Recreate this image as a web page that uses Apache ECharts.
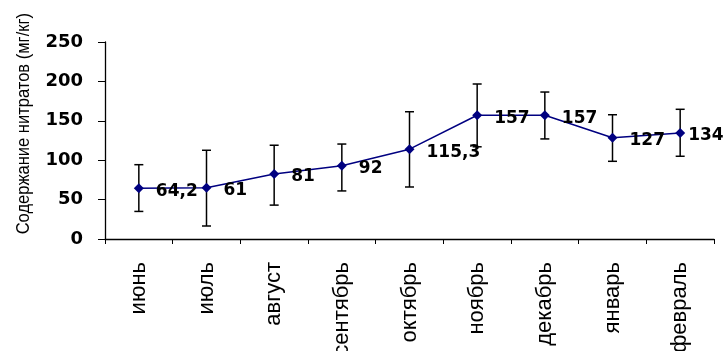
<!DOCTYPE html>
<html><head><meta charset="utf-8">
<script src="https://cdn.jsdelivr.net/npm/echarts@6/dist/echarts.min.js"></script>
<style>html,body{margin:0;padding:0;background:#fff}#c{width:723px;height:351px}</style>
</head><body><div id="c"></div>
<script>
var categories = ['июнь','июль','август','сентябрь','октябрь','ноябрь','декабрь','январь','февраль'];
var values = [64.5, 65, 82.5, 93, 114, 157, 157, 128.5, 134.5];
var valueLabels = ['64,2','61','81','92','115,3','157','157','127','134'];
var errLow = [35, 16.5, 43, 61, 66, 117, 127, 98.6, 105];
var errHigh = [94.3, 112.6, 119, 120.5, 161.5, 196.7, 186.5, 157.7, 164.6];
var yTicks = [0, 50, 100, 150, 200, 250];
var yTitle = 'Содержание нитратов (мг/кг)';

var lineData = values.map(function (v, i) {
  var item = {value: v};
  if (i === values.length - 1) { item.label = {distance: 3}; }
  return item;
});

var chart = echarts.init(document.getElementById('c'));
chart.setOption({
  animation: false,
  grid: {left: 105, right: 9, top: 42, bottom: 112, containLabel: false, outerBoundsMode: 'none'},
  graphic: [{
    type: 'text', rotation: Math.PI / 2, scaleX: 0.87,
    style: {text: yTitle, font: '19px "Liberation Sans", Arial, sans-serif', fill: '#000', textAlign: 'right', textVerticalAlign: 'top'},
    x: 14, y: 13
  }],
  xAxis: {
    type: 'category', data: categories, boundaryGap: true,
    axisLine: {lineStyle: {color: '#000', width: 1.3}},
    axisTick: {show: true, length: 5, alignWithLabel: false, lineStyle: {color: '#000'}},
    axisLabel: {rotate: 90, interval: 0, margin: 23, color: '#000', fontSize: 22, fontFamily: '"Liberation Sans", Arial, sans-serif'}
  },
  yAxis: {
    type: 'value', min: yTicks[0], max: yTicks[yTicks.length - 1], interval: 50,
    splitLine: {show: false},
    axisLine: {show: true, lineStyle: {color: '#000', width: 1.3}},
    axisTick: {show: true, length: 7, lineStyle: {color: '#000'}},
    axisLabel: {margin: 22, color: '#000', fontSize: 18, fontWeight: 'bold', fontFamily: '"DejaVu Sans", Verdana, sans-serif'}
  },
  series: [
    {
      type: 'custom',
      z: 3,
      data: categories.map(function (c, i) { return [i, errLow[i], errHigh[i]]; }),
      renderItem: function (params, api) {
        var lo = api.coord([api.value(0), api.value(1)]);
        var hi = api.coord([api.value(0), api.value(2)]);
        var w = 4.5;
        var st = {stroke: '#000', lineWidth: 1.5};
        return {type: 'group', children: [
          {type: 'line', shape: {x1: hi[0], y1: hi[1], x2: lo[0], y2: lo[1]}, style: st},
          {type: 'line', shape: {x1: hi[0] - w, y1: hi[1], x2: hi[0] + w, y2: hi[1]}, style: st},
          {type: 'line', shape: {x1: lo[0] - w, y1: lo[1], x2: lo[0] + w, y2: lo[1]}, style: st}
        ]};
      }
    },
    {
      type: 'line', data: lineData, z: 5,
      symbol: 'diamond', symbolSize: 10,
      lineStyle: {color: '#000080', width: 1.5},
      itemStyle: {color: '#000080'},
      label: {
        show: true, position: 'right', distance: 12, offset: [0, 3],
        color: '#000', fontSize: 17, fontWeight: 'bold', fontFamily: '"DejaVu Sans", Verdana, sans-serif',
        formatter: function (p) { return valueLabels[p.dataIndex]; }
      }
    }
  ]
});
</script></body></html>
